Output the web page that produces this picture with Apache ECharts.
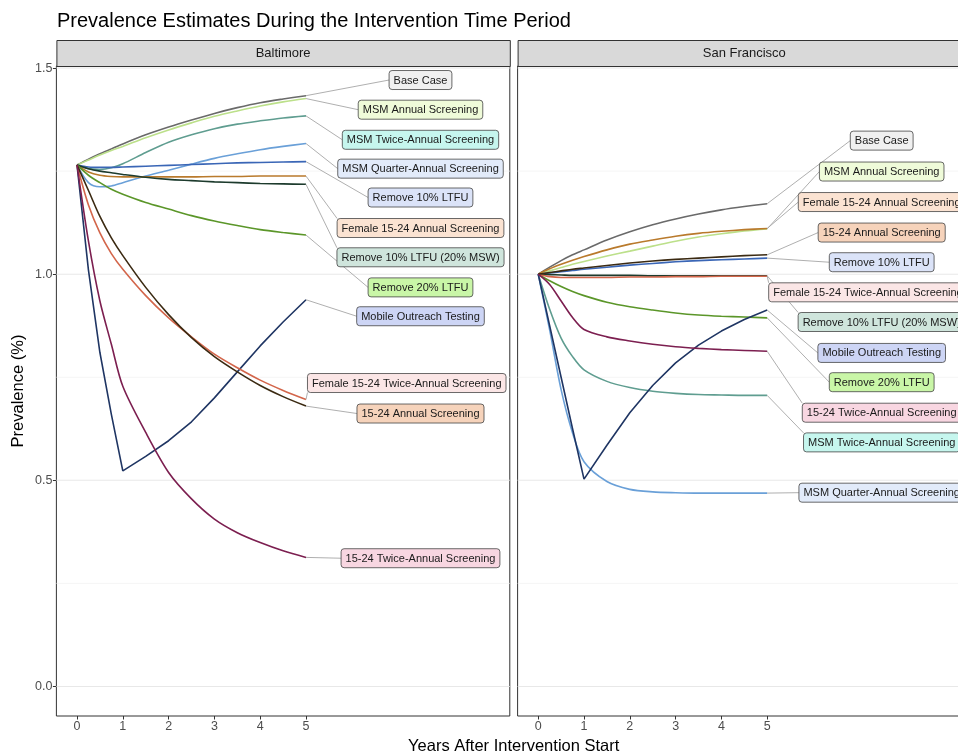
<!DOCTYPE html>
<html><head><meta charset="utf-8">
<script src="https://cdn.jsdelivr.net/npm/echarts@6/dist/echarts.min.js"></script>
<style>html,body{margin:0;padding:0;background:#fff;overflow:hidden}#c{width:980px;height:754px}</style>
</head><body><div id="c"></div>
<script>
// ---------------- DATA ----------------
const years = [0, 0.25, 0.5, 0.75, 1, 1.5, 2, 2.5, 3, 3.5, 4, 4.5, 5];
const xTicks = [0, 1, 2, 3, 4, 5];
const yTicks = [0, 0.5, 1, 1.5];
const yMinorTicks = [0.25, 0.75, 1.25];
const cities = ['Baltimore', 'San Francisco'];
const scenarios = [
  'Base Case', 'MSM Annual Screening', 'MSM Twice-Annual Screening', 'MSM Quarter-Annual Screening',
  'Remove 10% LTFU', 'Female 15-24 Annual Screening', 'Remove 10% LTFU (20% MSW)', 'Remove 20% LTFU',
  'Mobile Outreach Testing', 'Female 15-24 Twice-Annual Screening', '15-24 Annual Screening', '15-24 Twice-Annual Screening'
];

// Baltimore prevalence (%)
const balBaseCase      = [1.265,1.279,1.292,1.304,1.316,1.338,1.357,1.374,1.390,1.404,1.416,1.425,1.433];
const balMsmAnnual     = [1.265,1.277,1.289,1.300,1.310,1.331,1.350,1.367,1.383,1.396,1.408,1.418,1.426];
const balMsmTwice      = [1.265,1.256,1.254,1.258,1.268,1.295,1.320,1.338,1.353,1.364,1.372,1.379,1.384];
const balMsmQuarter    = [1.265,1.222,1.212,1.214,1.222,1.238,1.252,1.267,1.281,1.292,1.302,1.310,1.317];
const balRemove10      = [1.265,1.260,1.259,1.259,1.260,1.262,1.264,1.266,1.268,1.270,1.271,1.272,1.273];
const balFemAnnual     = [1.265,1.248,1.240,1.237,1.236,1.236,1.236,1.236,1.237,1.237,1.238,1.238,1.238];
const balRemove10Msw   = [1.265,1.256,1.250,1.246,1.242,1.235,1.230,1.227,1.224,1.222,1.220,1.219,1.218];
const balRemove20      = [1.265,1.240,1.222,1.206,1.194,1.174,1.158,1.142,1.129,1.118,1.108,1.101,1.095];
const balMobile        = [1.265,1.010,0.810,0.660,0.523,0.558,0.596,0.642,0.700,0.763,0.826,0.884,0.938];
const balFemTwice      = [1.265,1.168,1.100,1.050,1.012,0.948,0.894,0.848,0.806,0.773,0.743,0.718,0.696];
const balYouthAnnual   = [1.265,1.203,1.140,1.088,1.045,0.968,0.902,0.846,0.800,0.763,0.730,0.703,0.680];
const balYouthTwice    = [1.265,1.080,0.935,0.830,0.728,0.616,0.519,0.455,0.406,0.373,0.349,0.329,0.313];

// San Francisco prevalence (%)
const sfBaseCase       = [1.000,1.017,1.033,1.047,1.059,1.083,1.103,1.120,1.134,1.146,1.156,1.164,1.171];
const sfMsmAnnual      = [1.000,1.008,1.016,1.024,1.031,1.044,1.056,1.068,1.080,1.090,1.098,1.105,1.110];
const sfMsmTwice       = [1.000,0.915,0.845,0.800,0.768,0.740,0.725,0.716,0.711,0.708,0.707,0.706,0.706];
const sfMsmQuarter     = [1.000,0.865,0.720,0.615,0.545,0.497,0.478,0.472,0.470,0.469,0.469,0.469,0.469];
const sfRemove10       = [1.000,1.003,1.006,1.009,1.012,1.017,1.022,1.026,1.030,1.033,1.035,1.037,1.039];
const sfFemAnnual      = [1.000,1.013,1.024,1.034,1.043,1.059,1.073,1.083,1.092,1.099,1.104,1.108,1.111];
const sfRemove10Msw    = [1.000,0.999,0.998,0.997,0.997,0.997,0.997,0.996,0.996,0.996,0.996,0.996,0.996];
const sfRemove20       = [1.000,0.984,0.970,0.958,0.948,0.932,0.921,0.913,0.906,0.901,0.898,0.896,0.894];
const sfMobile         = [1.000,0.875,0.750,0.625,0.503,0.585,0.664,0.730,0.785,0.828,0.862,0.890,0.913];
const sfFemTwice       = [1.000,0.994,0.992,0.992,0.992,0.992,0.993,0.993,0.994,0.994,0.995,0.995,0.995];
const sfYouthAnnual    = [1.000,1.004,1.008,1.012,1.015,1.021,1.027,1.032,1.036,1.039,1.042,1.045,1.047];
const sfYouthTwice     = [1.000,0.975,0.935,0.895,0.866,0.848,0.838,0.830,0.824,0.820,0.817,0.815,0.813];

// repelled label positions (years, prevalence), one per scenario
const labelX    = [7.5,7.5,7.5,7.5,7.5,7.5,7.5,7.5,7.5,7.2,7.5,7.5];
const balLabelY = [1.471,1.399,1.326,1.256,1.186,1.112,1.041,0.968,0.898,0.736,0.662,0.311];
const sfLabelY  = [1.324,1.249,0.592,0.470,1.029,1.175,0.884,0.738,0.809,0.956,1.101,0.664];

// ---------------- STYLE ----------------
const lineColors = ['#6a6a6a','#bce08a','#5f9d90','#6aa0d8','#3a66b6','#b97a2c','#1d3b2d','#5b9629','#1f3563','#d3664b','#3b2a12','#7c1f50'];
const labelFills = ['#f0f0f0','#effbd9','#c6f6ee','#e2ebfa','#dbe3f8','#fbe3d2','#cfe5dc','#c9f6a7','#cdd5f5','#fbe6e6','#f6d3bb','#f8d6e1'];
const FONT = '"Liberation Sans", Arial, Helvetica, sans-serif';

const balValues = [balBaseCase,balMsmAnnual,balMsmTwice,balMsmQuarter,balRemove10,balFemAnnual,balRemove10Msw,balRemove20,balMobile,balFemTwice,balYouthAnnual,balYouthTwice];
const sfValues  = [sfBaseCase,sfMsmAnnual,sfMsmTwice,sfMsmQuarter,sfRemove10,sfFemAnnual,sfRemove10Msw,sfRemove20,sfMobile,sfFemTwice,sfYouthAnnual,sfYouthTwice];
const cityValues = [balValues, sfValues];
const cityLabelY = [balLabelY, sfLabelY];

const GRID_W = 453.4, GRID_TOP = 66, GRID_H = 650;
const gridLefts = [56.4, 517.6];

const measureCtx = document.createElement('canvas').getContext('2d');
const LABEL_FONT_SIZE = 11, PAD_X = 4.5, BOX_H = 19;
function boxFor(si, c) {
  measureCtx.font = LABEL_FONT_SIZE + 'px ' + FONT;
  const w = measureCtx.measureText(scenarios[si]).width + 2 * PAD_X;
  return { x1: c[0] - w / 2, x2: c[0] + w / 2, y1: c[1] - BOX_H / 2, y2: c[1] + BOX_H / 2, w: w };
}

function renderConnector(params, api) {
  const si = api.value(4);
  const c = api.coord([api.value(0), api.value(1)]);
  const p = api.coord([api.value(2), api.value(3)]);
  const b = boxFor(si, c);
  const dx = p[0] < b.x1 ? b.x1 - p[0] : (p[0] > b.x2 ? p[0] - b.x2 : 0);
  const dy = p[1] < b.y1 ? b.y1 - p[1] : (p[1] > b.y2 ? p[1] - b.y2 : 0);
  let ex, ey;
  if (dx >= dy) {
    ex = p[0] < b.x1 ? b.x1 : b.x2;
    ey = c[1];
  } else {
    ex = Math.min(Math.max(p[0], b.x1), b.x2);
    ey = p[1] < b.y1 ? b.y1 : b.y2;
  }
  return { type: 'line', shape: { x1: p[0], y1: p[1], x2: ex, y2: ey },
    style: { stroke: '#a6a6a6', lineWidth: 0.9 }, silent: true };
}

function renderLabel(params, api) {
  const si = api.value(4);
  const c = api.coord([api.value(0), api.value(1)]);
  const b = boxFor(si, c);
  return { type: 'group', children: [
    { type: 'rect', shape: { x: b.x1, y: b.y1, width: b.w, height: BOX_H, r: 3 },
      style: { fill: labelFills[si], stroke: '#444', lineWidth: 0.8 } },
    { type: 'text', style: { text: scenarios[si], x: c[0], y: c[1] + 0.5, align: 'center', verticalAlign: 'middle',
      fontSize: LABEL_FONT_SIZE, fontFamily: FONT, fill: '#1a1a1a' } }
  ] };
}

function renderGridLine(params, api) {
  const cs = params.coordSys;
  const y = api.coord([0, api.value(1)])[1];
  const major = api.value(2) === 1;
  return { type: 'line', shape: { x1: cs.x, y1: y, x2: cs.x + cs.width, y2: y },
    style: { stroke: major ? '#e8e8e8' : '#f2f2f2', lineWidth: major ? 1.1 : 0.8 }, silent: true };
}

const grids = [], xAxes = [], yAxes = [], series = [];
cities.forEach((city, ci) => {
  grids.push({ left: gridLefts[ci], top: GRID_TOP, width: GRID_W, height: GRID_H, show: true,
    borderColor: '#333', borderWidth: 1, backgroundColor: '#fff', containLabel: false });
  xAxes.push({ type: 'value', gridIndex: ci, min: -0.45, max: 9.45, position: 'bottom',
    axisLine: { show: false, onZero: false }, splitLine: { show: false },
    axisTick: { show: true, length: 3.5, lineStyle: { color: '#333' }, customValues: xTicks },
    axisLabel: { show: true, customValues: xTicks, color: '#4d4d4d', fontSize: 12.5, fontFamily: FONT, margin: 4 } });
  yAxes.push({ type: 'value', gridIndex: ci, min: -0.0717, max: 1.505, position: 'left',
    axisLine: { show: false, onZero: false }, splitLine: { show: false },
    axisTick: { show: ci === 0, length: 3.5, lineStyle: { color: '#333' }, customValues: yTicks },
    axisLabel: { show: ci === 0, customValues: yTicks, formatter: v => v.toFixed(1), color: '#4d4d4d', fontSize: 12.5, fontFamily: FONT, margin: 4 } });

  const gl = yTicks.map(v => [0, v, 1]).concat(yMinorTicks.map(v => [0, v, 0]));
  series.push({ type: 'custom', xAxisIndex: ci, yAxisIndex: ci, data: gl, renderItem: renderGridLine, z: 1, silent: true });

  cityValues[ci].forEach((vals, si) => {
    series.push({ type: 'line', name: scenarios[si], xAxisIndex: ci, yAxisIndex: ci,
      data: years.map((t, k) => [t, vals[k]]), showSymbol: false, symbol: 'none',
      smooth: si === 8 ? false : 0.3, lineStyle: { color: lineColors[si], width: 1.6 }, z: 2, silent: true });
  });

  const last = years.length - 1;
  const labelData = scenarios.map((s, si) => [labelX[si], cityLabelY[ci][si], years[last], cityValues[ci][si][last], si]);
  series.push({ type: 'custom', xAxisIndex: ci, yAxisIndex: ci, data: labelData, renderItem: renderConnector, z: 3, silent: true, clip: false });
  series.push({ type: 'custom', xAxisIndex: ci, yAxisIndex: ci, data: labelData, renderItem: renderLabel, z: 4, silent: true, clip: false });
});

const graphics = [];
cities.forEach((city, ci) => {
  graphics.push({ type: 'rect', left: gridLefts[ci], top: 40, shape: { width: GRID_W, height: 26 },
    style: { fill: '#d9d9d9', stroke: '#333', lineWidth: 1 }, z: 10 });
  graphics.push({ type: 'text', x: gridLefts[ci] + GRID_W / 2, y: 53,
    style: { text: city, fontSize: 13, fontFamily: FONT, fill: '#1a1a1a', align: 'center', verticalAlign: 'middle' }, z: 11 });
});
graphics.push({ type: 'text', x: (gridLefts[0] + gridLefts[1] + GRID_W) / 2, y: 746,
  style: { text: 'Years After Intervention Start', fontSize: 16.5, fontFamily: FONT, fill: '#000', align: 'center', verticalAlign: 'middle' } });
graphics.push({ type: 'text', x: 18, y: GRID_TOP + GRID_H / 2, rotation: Math.PI / 2,
  style: { text: 'Prevalence (%)', fontSize: 16.5, fontFamily: FONT, fill: '#000', align: 'center', verticalAlign: 'middle' } });

const chart = echarts.init(document.getElementById('c'), null, { renderer: 'canvas' });
chart.setOption({
  animation: false,
  backgroundColor: '#fff',
  title: { text: 'Prevalence Estimates During the Intervention Time Period', left: 52, top: 6,
    textStyle: { fontSize: 20, fontWeight: 'normal', color: '#000', fontFamily: FONT } },
  grid: grids, xAxis: xAxes, yAxis: yAxes, series: series, graphic: graphics
});
</script></body></html>
